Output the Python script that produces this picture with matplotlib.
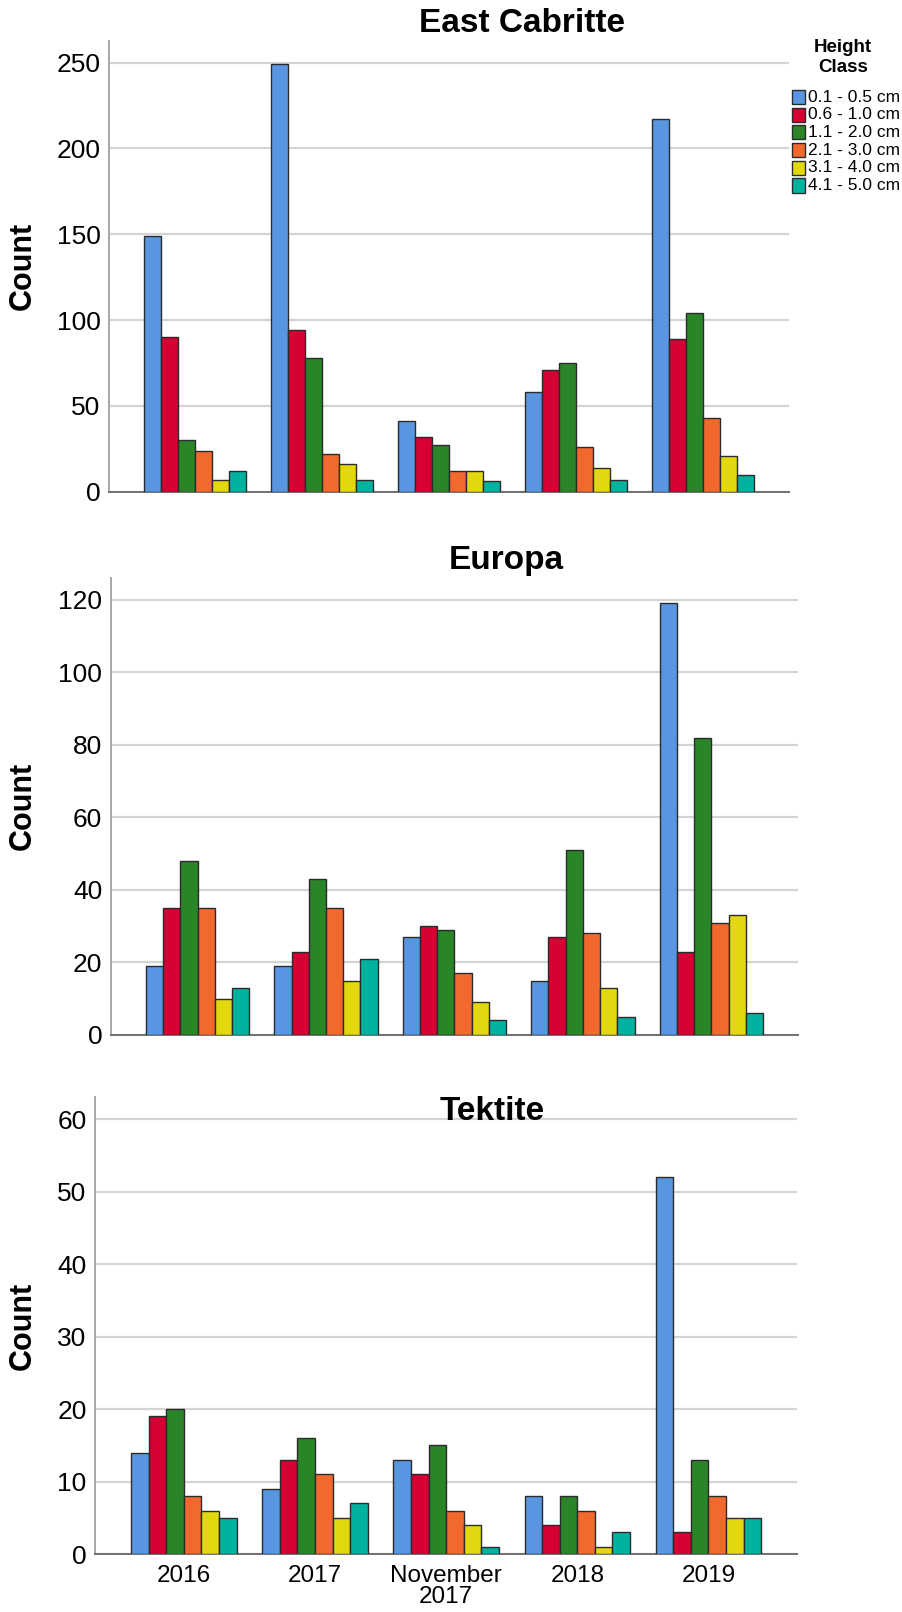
import matplotlib
matplotlib.use("Agg")
import matplotlib.pyplot as plt
from matplotlib.patches import Rectangle
import numpy as np

plt.rcParams['font.family'] = ['Liberation Sans', 'DejaVu Sans']

# Survey periods and height classes
periods = ["2016", "2017", "November\n2017", "2018", "2019"]
height_classes = ["0.1 - 0.5 cm", "0.6 - 1.0 cm", "1.1 - 2.0 cm",
                  "2.1 - 3.0 cm", "3.1 - 4.0 cm", "4.1 - 5.0 cm"]
class_colors = ["#5896E2", "#D60032", "#2A8428", "#F2692E", "#E3D80E", "#00B2A0"]

# Counts per height class (rows) and survey period (columns)
east_cabritte = [
    [149, 249, 41, 58, 217],
    [90, 94, 32, 71, 89],
    [30, 78, 27, 75, 104],
    [24, 22, 12, 26, 43],
    [7, 16, 12, 14, 21],
    [12, 7, 6, 7, 10],
]
europa = [
    [19, 19, 27, 15, 119],
    [35, 23, 30, 27, 23],
    [48, 43, 29, 51, 82],
    [35, 35, 17, 28, 31],
    [10, 15, 9, 13, 33],
    [13, 21, 4, 5, 6],
]
tektite = [
    [14, 9, 13, 8, 52],
    [19, 13, 11, 4, 3],
    [20, 16, 15, 8, 13],
    [8, 11, 6, 6, 8],
    [6, 5, 4, 1, 5],
    [5, 7, 1, 3, 5],
]

W, H = 903, 1612
fig = plt.figure(figsize=(W / 100, H / 100), dpi=100)


def px_axes(left, right, top, bottom):
    return fig.add_axes([left / W, 1 - bottom / H, (right - left) / W, (bottom - top) / H])


panels = [
    dict(name="East Cabritte", data=east_cabritte, box=(109, 789, 41, 491.7),
         ymax=262.6, ticks=np.arange(0, 251, 50), title_xy=(522, 23), xlabels=False),
    dict(name="Europa", data=europa, box=(110.7, 798, 577.7, 1035),
         ymax=126.1, ticks=np.arange(0, 121, 20), title_xy=(506, 560), xlabels=False),
    dict(name="Tektite", data=tektite, box=(95, 797, 1097, 1554),
         ymax=63.1, ticks=np.arange(0, 61, 10), title_xy=(492, 1111), xlabels=True),
]

bar_w = 0.134
x = np.arange(len(periods))
n = len(height_classes)

for p in panels:
    left, right, top, bottom = p["box"]
    ax = px_axes(left, right, top, bottom)
    ax.set_axisbelow(True)
    ax.yaxis.grid(True, color="#d4d4d4", linewidth=1.6)
    for i, (vals, col) in enumerate(zip(p["data"], class_colors)):
        offs = (i - (n - 1) / 2) * bar_w
        ax.bar(x + offs, vals, width=bar_w, color=col, edgecolor="#2b2b2b",
               linewidth=1.0, zorder=3)
    ax.set_xlim(-0.677, 4.675)
    ax.set_ylim(0, p["ymax"])
    ax.set_yticks(p["ticks"])
    ax.tick_params(axis="y", length=0, labelsize=19, pad=6)
    ax.tick_params(axis="x", length=0, labelsize=17.5, pad=8)
    ax.set_xticks(x)
    if p["xlabels"]:
        ax.set_xticklabels(periods, linespacing=0.95)
    else:
        ax.set_xticklabels([])
    for s in ("top", "right"):
        ax.spines[s].set_visible(False)
    ax.spines["left"].set_color("#a8a8a8")
    ax.spines["left"].set_linewidth(1.4)
    ax.spines["bottom"].set_color("#707070")
    ax.spines["bottom"].set_linewidth(1.4)
    ax.set_ylabel("Count", fontsize=22, fontweight="bold", va="center", ha="center")
    ax.yaxis.set_label_coords(-(left - 23) / (right - left), 0.5)
    tx, ty = p["title_xy"]
    fig.text(tx / W, 1 - ty / H, p["name"], fontsize=24, fontweight="bold",
             ha="center", va="center")

# Legend for the height classes
fig.text(843 / W, 1 - 48 / H, "Height", fontsize=13.5, fontweight="bold",
         ha="center", va="center")
fig.text(843 / W, 1 - 68 / H, "Class", fontsize=13.5, fontweight="bold",
         ha="center", va="center")
row_y0, row_dy = 97, 17.7
for i, (lab, col) in enumerate(zip(height_classes, class_colors)):
    yc = row_y0 + i * row_dy
    fig.patches.append(Rectangle((792 / W, 1 - (yc + 7) / H), 13.5 / W, 14 / H,
                                 transform=fig.transFigure, facecolor=col,
                                 edgecolor="#2b2b2b", linewidth=1.0))
    fig.text(808 / W, 1 - yc / H, lab, fontsize=12.5, ha="left", va="center")

fig.savefig("out.png", dpi=100)
